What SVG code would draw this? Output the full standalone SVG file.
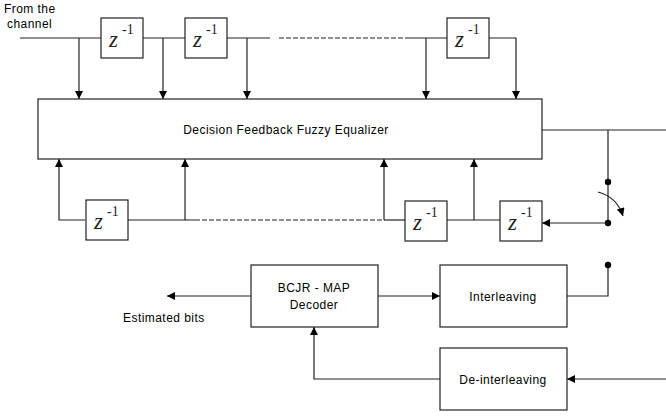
<svg xmlns="http://www.w3.org/2000/svg" width="666" height="417" viewBox="0 0 666 417">
<defs>
<style>
.box{fill:#fff;stroke:#222;stroke-width:1.2}
.ln{fill:none;stroke:#222;stroke-width:1.2}
.dash{fill:none;stroke:#222;stroke-width:1.2;stroke-dasharray:5,2}
.t{font-family:"Liberation Sans","DejaVu Sans",sans-serif;font-size:12px;letter-spacing:0.45px;fill:#000}
.z{font-family:"Liberation Serif",serif;font-style:italic;font-size:23px;fill:#222}
.s{font-family:"Liberation Serif",serif;font-size:14px;fill:#222}
</style>
<marker id="ah" viewBox="0 0 10 10" refX="10" refY="5" markerWidth="8" markerHeight="8" markerUnits="userSpaceOnUse" orient="auto">
<path d="M0,0 L10,5 L0,10 z" fill="#000"/>
</marker>
<symbol id="zinv" overflow="visible">
<rect class="box" x="0" y="0" width="42" height="40"/>
<text class="z" x="8" y="29">z</text>
<text class="s" x="21" y="16">-1</text>
</symbol>
</defs>
<rect width="666" height="417" fill="#fff"/>
<g id="connectors">
<line class="ln" x1="20" y1="38" x2="101" y2="38"/>
<line class="ln" x1="143" y1="38" x2="185" y2="38"/>
<line class="ln" x1="227" y1="38" x2="270" y2="38"/>
<line class="dash" x1="279" y1="38" x2="405" y2="38"/>
<line class="ln" x1="405" y1="38" x2="447" y2="38"/>
<polyline class="ln" points="489,38 516,38 516,99" marker-end="url(#ah)"/>
<line class="ln" x1="79" y1="38" x2="79" y2="99" marker-end="url(#ah)"/>
<line class="ln" x1="163" y1="38" x2="163" y2="99" marker-end="url(#ah)"/>
<line class="ln" x1="247" y1="38" x2="247" y2="99" marker-end="url(#ah)"/>
<line class="ln" x1="426" y1="38" x2="426" y2="99" marker-end="url(#ah)"/>
<line class="ln" x1="542" y1="130" x2="666" y2="130"/>
<line class="ln" x1="608" y1="130" x2="608" y2="223"/>
<circle cx="608" cy="182" r="3.2" fill="#000"/>
<circle cx="608" cy="223" r="3.2" fill="#000"/>
<path class="ln" d="M598,192 Q617,197 623,216" marker-end="url(#ah)"/>
<line class="ln" x1="608" y1="223" x2="542" y2="223" marker-end="url(#ah)"/>
<polyline class="ln" points="85,220 59,220 59,159" marker-end="url(#ah)"/>
<line class="ln" x1="128" y1="220" x2="195" y2="220"/>
<line class="ln" x1="185" y1="220" x2="185" y2="159" marker-end="url(#ah)"/>
<line class="dash" x1="195" y1="220" x2="384" y2="220"/>
<line class="ln" x1="384" y1="220" x2="405" y2="220"/>
<line class="ln" x1="384" y1="220" x2="384" y2="159" marker-end="url(#ah)"/>
<line class="ln" x1="447" y1="220" x2="500" y2="220"/>
<line class="ln" x1="474" y1="220" x2="474" y2="159" marker-end="url(#ah)"/>
<line class="ln" x1="251" y1="296" x2="167" y2="296" marker-end="url(#ah)"/>
<line class="ln" x1="378" y1="296" x2="440" y2="296" marker-end="url(#ah)"/>
<polyline class="ln" points="567,296 608,296 608,265"/>
<circle cx="608" cy="265" r="3.2" fill="#000"/>
<line class="ln" x1="666" y1="379" x2="567" y2="379" marker-end="url(#ah)"/>
<polyline class="ln" points="440,379 314,379 314,327" marker-end="url(#ah)"/>
</g>
<g id="input-label"><text class="t" x="4" y="13">From the</text><text class="t" x="7" y="28">channel</text></g>
<g id="z1"><use href="#zinv" x="101" y="18"/></g>
<g id="z2"><use href="#zinv" x="185" y="18"/></g>
<g id="z3"><use href="#zinv" x="447" y="18"/></g>
<g id="equalizer"><rect class="box" x="38" y="99" width="504" height="60"/><text class="t" x="286" y="134" text-anchor="middle">Decision Feedback Fuzzy Equalizer</text></g>
<g id="z4"><use href="#zinv" x="86" y="200"/></g>
<g id="z5"><use href="#zinv" x="405" y="201"/></g>
<g id="z6"><use href="#zinv" x="500" y="201"/></g>
<g id="bcjr"><rect class="box" x="251" y="265" width="127" height="62"/><text class="t" x="314" y="292" text-anchor="middle" font-size="13">BCJR - MAP</text><text class="t" x="314" y="309" text-anchor="middle">Decoder</text></g>
<g id="interleaving"><rect class="box" x="440" y="265" width="127" height="62"/><text class="t" x="503" y="301" text-anchor="middle">Interleaving</text></g>
<g id="deinterleaving"><rect class="box" x="440" y="348" width="127" height="62"/><text class="t" x="503" y="384" text-anchor="middle">De-interleaving</text></g>
<g id="output-label"><text class="t" x="123" y="322">Estimated bits</text></g>
</svg>
